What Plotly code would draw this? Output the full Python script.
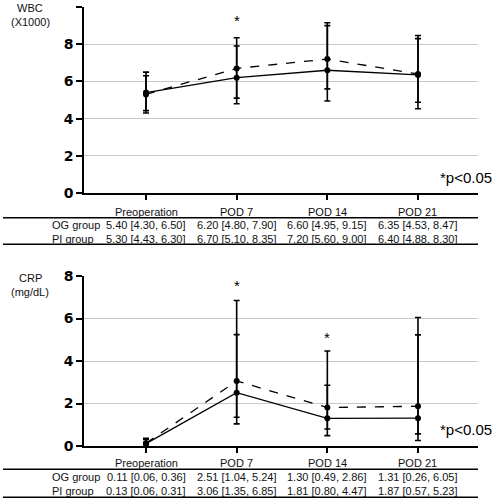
import plotly.graph_objects as go

categories = ["Preoperation", "POD 7", "POD 14", "POD 21"]
groups = ["OG group", "PI group"]

wbc_og_med = [5.40, 6.20, 6.60, 6.35]
wbc_og_lo = [4.30, 4.80, 4.95, 4.53]
wbc_og_hi = [6.50, 7.90, 9.15, 8.47]
wbc_pi_med = [5.30, 6.70, 7.20, 6.40]
wbc_pi_lo = [4.43, 5.10, 5.60, 4.88]
wbc_pi_hi = [6.30, 8.35, 9.00, 8.30]

crp_og_med = [0.11, 2.51, 1.30, 1.31]
crp_og_lo = [0.06, 1.04, 0.49, 0.26]
crp_og_hi = [0.36, 5.24, 2.86, 6.05]
crp_pi_med = [0.13, 3.06, 1.81, 1.87]
crp_pi_lo = [0.06, 1.35, 0.80, 0.57]
crp_pi_hi = [0.31, 6.85, 4.47, 5.23]

wbc_sig = ["POD 7"]
crp_sig = ["POD 7", "POD 14"]

W, H = 495, 500
def py(px):
    return 1 - px / H
def pxx(px):
    return px / W

fig = go.Figure()

def add_series(med, lo, hi, dash, xa, ya):
    fig.add_trace(go.Scatter(
        x=categories, y=med, xaxis=xa, yaxis=ya, mode="lines+markers",
        line=dict(color="black", width=1.3, dash=dash),
        marker=dict(color="black", size=6),
        error_y=dict(type="data", symmetric=False,
                     array=[h - m for h, m in zip(hi, med)],
                     arrayminus=[m - l for m, l in zip(med, lo)],
                     color="black", thickness=1.6, width=3),
        showlegend=False, hoverinfo="skip"))

add_series(wbc_og_med, wbc_og_lo, wbc_og_hi, "solid", "x", "y")
add_series(wbc_pi_med, wbc_pi_lo, wbc_pi_hi, "dash", "x", "y")
add_series(crp_og_med, crp_og_lo, crp_og_hi, "solid", "x2", "y2")
add_series(crp_pi_med, crp_pi_lo, crp_pi_hi, "dash", "x2", "y2")

xr = [-0.684, 3.662]
xcommon = dict(type="category", range=xr, domain=[pxx(84), pxx(478)], automargin=False,
               showline=True, linecolor="black", linewidth=1.5,
               ticks="outside", ticklen=5, tickcolor="black", tickwidth=1.5,
               showticklabels=False, showgrid=False, zeroline=False,
               categoryorder="array", categoryarray=categories)
ycommon = dict(showline=True, linecolor="black", linewidth=1.5, automargin=False,
               ticks="outside", ticklen=6, tickcolor="black", tickwidth=1.5,
               showgrid=True, gridcolor="#c8c8c8", gridwidth=1, zeroline=False,
               tickfont=dict(family="DejaVu Sans", size=14, color="black", weight="bold"))

fig.update_layout(
    width=W, height=H, autosize=False,
    margin=dict(l=0, r=0, t=0, b=0, pad=0, autoexpand=False),
    paper_bgcolor="white", plot_bgcolor="white",
    xaxis=dict(**xcommon, anchor="y"),
    yaxis=dict(**ycommon, range=[0, 10], dtick=2, domain=[py(193), py(7)], anchor="x"),
    xaxis2=dict(**xcommon, anchor="y2"),
    yaxis2=dict(**ycommon, range=[0, 8], dtick=2, domain=[py(446), py(276)], anchor="x2"),
)

ann = []
tfont = dict(family="Liberation Sans", size=11, color="#111")

# axis titles
ann.append(dict(x=pxx(30), y=py(7.5), xref="paper", yref="paper", text="WBC", showarrow=False, font=tfont, xanchor="center", yanchor="middle"))
ann.append(dict(x=pxx(30), y=py(21.5), xref="paper", yref="paper", text="(X1000)", showarrow=False, font=tfont, xanchor="center", yanchor="middle"))
ann.append(dict(x=pxx(30), y=py(277.5), xref="paper", yref="paper", text="CRP", showarrow=False, font=tfont, xanchor="center", yanchor="middle"))
ann.append(dict(x=pxx(30), y=py(292), xref="paper", yref="paper", text="(mg/dL)", showarrow=False, font=tfont, xanchor="center", yanchor="middle"))

# significance
sfont = dict(family="Liberation Sans", size=15, color="black")
for c in wbc_sig:
    ann.append(dict(x=c, y=py(20), xref="x", yref="paper", text="*", showarrow=False, font=sfont, yanchor="middle"))
crp_star_px = {"POD 7": 285, "POD 14": 337}
for c in crp_sig:
    ann.append(dict(x=c, y=py(crp_star_px[c]), xref="x2", yref="paper", text="*", showarrow=False, font=sfont, yanchor="middle"))
ann.append(dict(x=pxx(494), y=py(177), xref="paper", yref="paper", text="*p<0.05", showarrow=False, font=sfont, xanchor="right", yanchor="middle"))
ann.append(dict(x=pxx(494), y=py(429), xref="paper", yref="paper", text="*p<0.05", showarrow=False, font=sfont, xanchor="right", yanchor="middle"))

def fmt(m, l, h):
    return f"{m:.2f} [{l:.2f}, {h:.2f}]"

def table(xa, y_head, y_rows, rows):
    for c in categories:
        ann.append(dict(x=c, y=py(y_head), xref=xa, yref="paper", text=c, showarrow=False, font=tfont, yanchor="middle"))
    for (g, (med, lo, hi)), yy in zip(zip(groups, rows), y_rows):
        ann.append(dict(x=pxx(50), y=py(yy), xref="paper", yref="paper", text=g, showarrow=False, font=tfont, yanchor="middle"))
        for c, m, l, h in zip(categories, med, lo, hi):
            ann.append(dict(x=c, y=py(yy), xref=xa, yref="paper", text=fmt(m, l, h), showarrow=False, font=tfont, yanchor="middle"))

table("x", 211.5, [224.5, 238.5], [(wbc_og_med, wbc_og_lo, wbc_og_hi), (wbc_pi_med, wbc_pi_lo, wbc_pi_hi)])
table("x2", 462.5, [476.5, 490.5], [(crp_og_med, crp_og_lo, crp_og_hi), (crp_pi_med, crp_pi_lo, crp_pi_hi)])

shapes = []
for yy in [217.7, 244.3, 469.3, 497.3]:
    shapes.append(dict(type="line", xref="paper", yref="paper", x0=pxx(3), x1=pxx(478), y0=py(yy), y1=py(yy), line=dict(color="black", width=1.5)))

fig.update_layout(annotations=ann, shapes=shapes)
fig.write_html("out.html", config={"displayModeBar": False, "responsive": False},
               post_script="document.body.style.margin='0';document.body.style.overflow='hidden';")
